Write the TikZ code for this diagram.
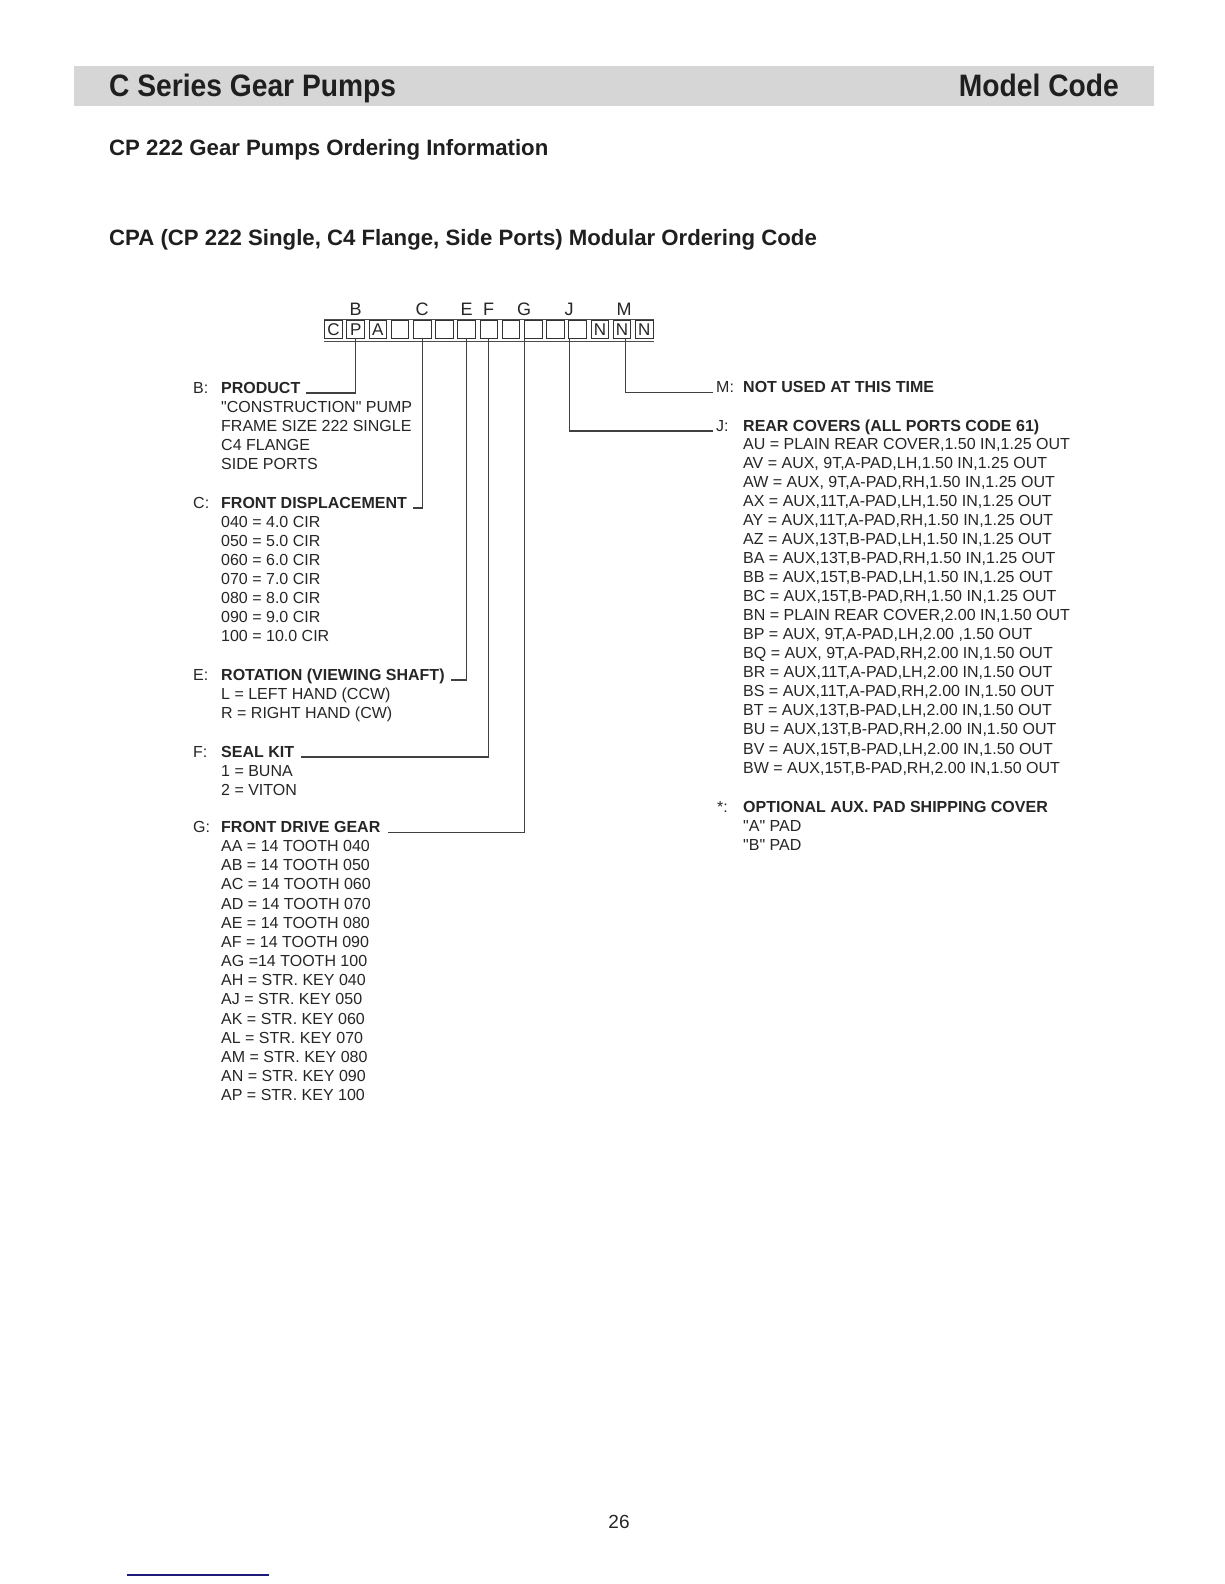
\documentclass[tikz,border=0pt]{standalone}
\usepackage{fontspec}
\newfontfamily\bodyfont{Liberation Sans}
\newfontfamily\condfont{Liberation Sans}[FakeStretch=0.91]
\usetikzlibrary{calc}
\definecolor{navyline}{RGB}{28,28,120}
\definecolor{barfill}{RGB}{214,214,214}
\begin{document}
\begin{tikzpicture}[x=1pt,y=-1pt,
  txt/.style={anchor=base west, inner sep=0pt, font=\bodyfont\fontsize{16}{19}\selectfont, text=black!85},
  hd/.style={txt, font=\bodyfont\fontsize{16}{19}\selectfont\bfseries},
  conn/.style={line width=1.1pt, draw=black!75},
  cbox/.style={draw=black!80, line width=1pt, minimum width=17.5pt, minimum height=18pt, inner sep=0pt},
  boxl/.style={anchor=base, inner sep=0pt, font=\bodyfont\fontsize{17}{19}\selectfont, text=black!85},
  codel/.style={anchor=base, inner sep=0pt, font=\bodyfont\fontsize{18}{20}\selectfont, text=black!85},
  ttl/.style={inner sep=0pt, font=\condfont\fontsize{31}{33}\selectfont\bfseries, text=black!88},
  sub/.style={anchor=base west, inner sep=0pt, font=\bodyfont\fontsize{22.2}{24}\selectfont\bfseries, text=black!88}
]
\path[use as bounding box, fill=white] (0,0) rectangle (1224,1584);

% header bar
\fill[barfill] (74,66) rectangle (1154,106);
\node[ttl, anchor=base west] (title) at (109,97) {C Series Gear Pumps};
\node[ttl, anchor=base east] (mcode) at (1119,97) {Model Code};

\node[sub] (sub1) at (109,155) {CP 222 Gear Pumps Ordering Information};
\node[sub] (sub2) at (109,245) {CPA (CP 222 Single, C4 Flange, Side Ports) Modular Ordering Code};

% code boxes
\foreach \i in {1,...,15}
  \node[cbox] (box\i) at ({333.5+22.2*(\i-1)},329.5) {};
\foreach \i/\l in {1/C,2/P,3/A,13/N,14/N,15/N}
  \node[boxl] (bl\i) at ($(box\i.center)+(0,6.2)$) {\l};
\draw[line width=0.8pt, black!70] ($(box1.north west)+(0,-1)$) -- ($(box15.north east)+(0,-1)$);
\draw[line width=0.8pt, black!70] ($(box1.south west)+(0,2.5)$) -- ($(box15.south east)+(0,2.5)$);

% letters above
\node[codel] (cB) at (355.6,315) {B};
\node[codel] (cC) at (422,315) {C};
\node[codel] (cE) at (466.5,315) {E};
\node[codel] (cF) at (488.5,315) {F};
\node[codel] (cG) at (524,315) {G};
\node[codel] (cJ) at (569,315) {J};
\node[codel] (cM) at (624,315) {M};

% left column
\node[txt] (lB) at (193,393) {B:};
\node[hd] (hB) at (221,393) {PRODUCT};
\foreach \t [count=\i] in {{"CONSTRUCTION" PUMP},{FRAME SIZE 222 SINGLE},{C4 FLANGE},{SIDE PORTS}}
  \node[txt] (b\i) at (221,{393+19.2*\i}) {\t};

\node[txt] (lC) at (193,508) {C:};
\node[hd] (hC) at (221,508) {FRONT DISPLACEMENT};
\foreach \t [count=\i] in {{040 = 4.0 CIR},{050 = 5.0 CIR},{060 = 6.0 CIR},{070 = 7.0 CIR},{080 = 8.0 CIR},{090 = 9.0 CIR},{100 = 10.0 CIR}}
  \node[txt] (c\i) at (221,{508+19.1*\i}) {\t};

\node[txt] (lE) at (193,680) {E:};
\node[hd] (hE) at (221,680) {ROTATION (VIEWING SHAFT)};
\node[txt] (e1) at (221,699) {L = LEFT HAND (CCW)};
\node[txt] (e2) at (221,718) {R = RIGHT HAND (CW)};

\node[txt] (lF) at (193,757) {F:};
\node[hd] (hF) at (221,757) {SEAL KIT};
\node[txt] (f1) at (221,776) {1 = BUNA};
\node[txt] (f2) at (221,795) {2 = VITON};

\node[txt] (lG) at (193,832.5) {G:};
\node[hd] (hG) at (221,832.5) {FRONT DRIVE GEAR};
\foreach \t [count=\i] in {{AA = 14 TOOTH 040},{AB = 14 TOOTH 050},{AC = 14 TOOTH 060},{AD = 14 TOOTH 070},{AE = 14 TOOTH 080},{AF = 14 TOOTH 090},{AG =14 TOOTH 100},{AH = STR. KEY 040},{AJ = STR. KEY 050},{AK = STR. KEY 060},{AL = STR. KEY 070},{AM = STR. KEY 080},{AN = STR. KEY 090},{AP = STR. KEY 100}}
  \node[txt] (g\i) at (221,{832.5+19.15*\i}) {\t};

% right column
\node[txt] (lM) at (716,392.5) {M:};
\node[hd] (hM) at (743,392.5) {NOT USED AT THIS TIME};

\node[txt] (lJ) at (716,431) {J:};
\node[hd] (hJ) at (743,431) {REAR COVERS (ALL PORTS CODE 61)};
\foreach \t [count=\i] in {{AU = PLAIN REAR COVER,1.50 IN,1.25 OUT},{AV = AUX, 9T,A-PAD,LH,1.50 IN,1.25 OUT},{AW = AUX, 9T,A-PAD,RH,1.50 IN,1.25 OUT},{AX = AUX,11T,A-PAD,LH,1.50 IN,1.25 OUT},{AY = AUX,11T,A-PAD,RH,1.50 IN,1.25 OUT},{AZ = AUX,13T,B-PAD,LH,1.50 IN,1.25 OUT},{BA = AUX,13T,B-PAD,RH,1.50 IN,1.25 OUT},{BB = AUX,15T,B-PAD,LH,1.50 IN,1.25 OUT},{BC = AUX,15T,B-PAD,RH,1.50 IN,1.25 OUT},{BN = PLAIN REAR COVER,2.00 IN,1.50 OUT},{BP = AUX, 9T,A-PAD,LH,2.00 ,1.50 OUT},{BQ = AUX, 9T,A-PAD,RH,2.00 IN,1.50 OUT},{BR = AUX,11T,A-PAD,LH,2.00 IN,1.50 OUT},{BS = AUX,11T,A-PAD,RH,2.00 IN,1.50 OUT},{BT = AUX,13T,B-PAD,LH,2.00 IN,1.50 OUT},{BU = AUX,13T,B-PAD,RH,2.00 IN,1.50 OUT},{BV = AUX,15T,B-PAD,LH,2.00 IN,1.50 OUT},{BW = AUX,15T,B-PAD,RH,2.00 IN,1.50 OUT}}
  \node[txt] (j\i) at (743,{430.5+19.03*\i}) {\t};

\node[txt] (lS) at (717,812) {*:};
\node[hd] (hS) at (743,812) {OPTIONAL AUX. PAD SHIPPING COVER};
\node[txt] (s1) at (743,831) {"A" PAD};
\node[txt] (s2) at (743,850) {"B" PAD};

% connectors
\draw[conn] (box2.south) |- ($(hB.base east)+(5,0)$);
\draw[conn] (box5.south) |- ($(hC.base east)+(6,0)$);
\draw[conn] (box7.south) |- ($(hE.base east)+(6,0)$);
\draw[conn] (box8.south) |- ($(hF.base east)+(7,0)$);
\coordinate (gtop) at ($(box9.south)!0.5!(box10.south)+(2,0)$);
\draw[conn] (gtop) |- ($(hG.base east)+(7,0)$);
\coordinate (jtop) at ($(box11.south)!0.5!(box12.south)+(3,0)$);
\draw[conn] (jtop) |- ($(lJ.base west)+(-3,0)$);
\coordinate (mtop) at ($(box14.south)+(3,0)$);
\draw[conn] (mtop) |- ($(lM.base west)+(-3,0)$);

% page number
\node[anchor=base, inner sep=0pt, font=\bodyfont\fontsize{19}{20}\selectfont, text=black!85] (pg) at (619,1528) {26};

\draw[line width=2pt, navyline] (127,1575) -- (269,1575);
\end{tikzpicture}
\end{document}
